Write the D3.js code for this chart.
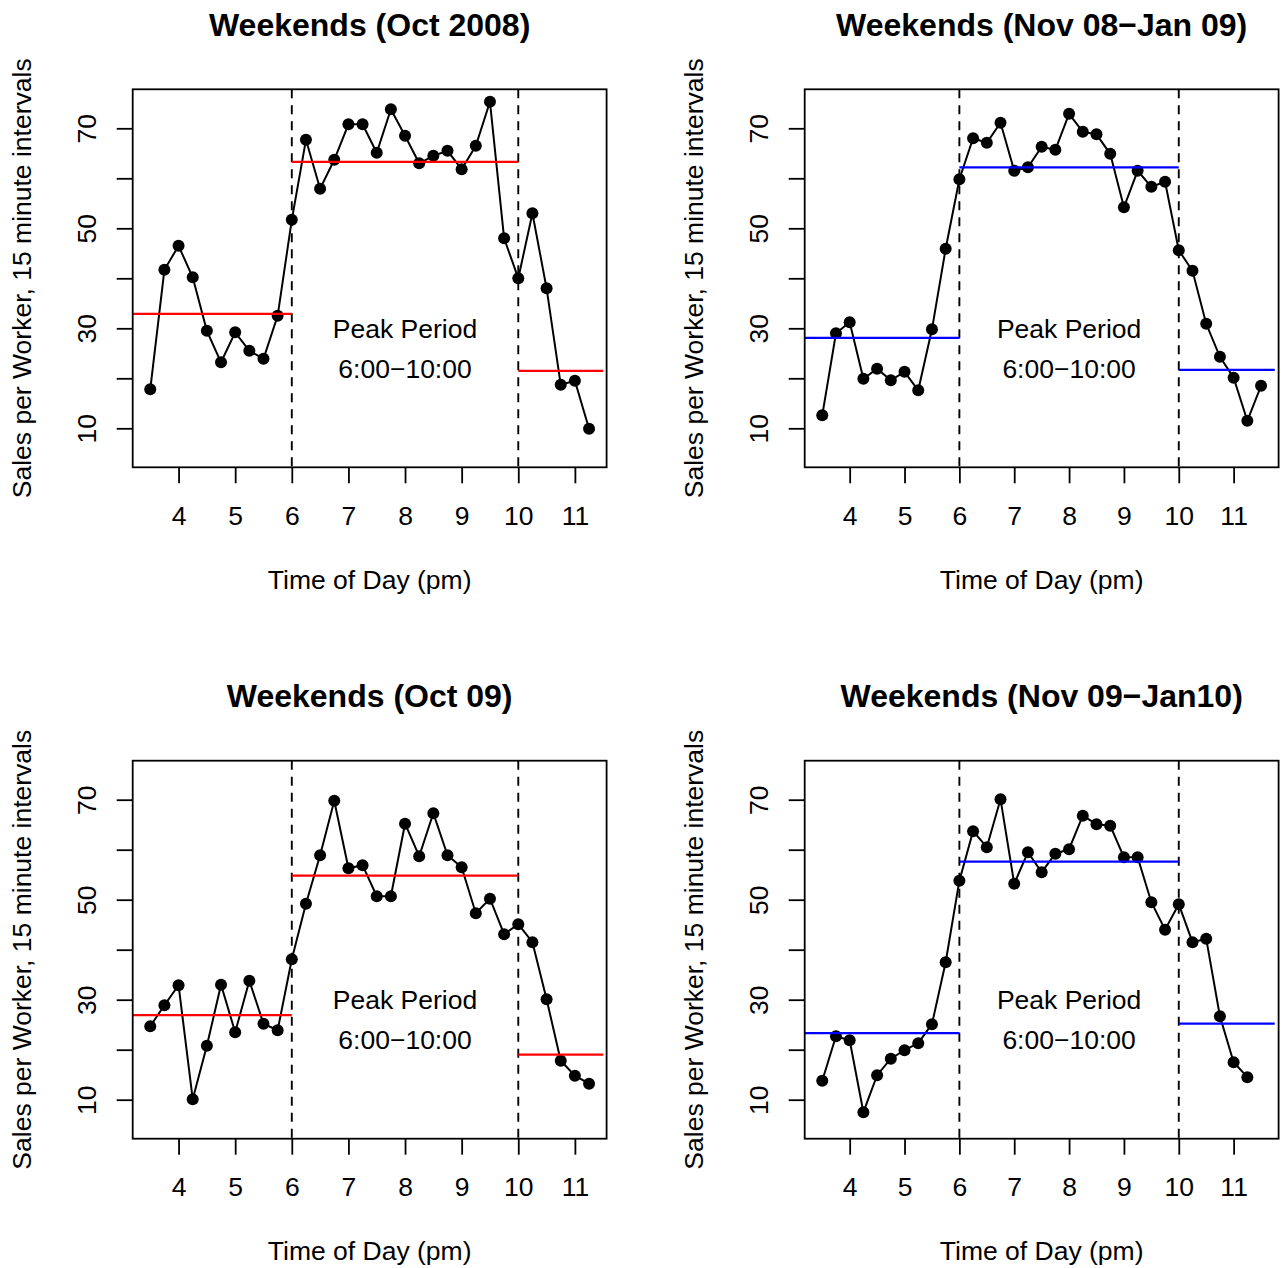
<!DOCTYPE html>
<html>
<head>
<meta charset="utf-8">
<script src="https://cdn.jsdelivr.net/npm/d3@7"></script>
<style>
  body { margin: 0; background: #fff; }
  svg { display: block; font-family: "Liberation Sans", Arial, Helvetica, sans-serif; }
</style>
</head>
<body>
<svg id="chart" width="1287" height="1268"></svg>
<script>
// time of day in hours (pm), 15 minute intervals
const timesShort = [3.5, 3.75, 4, 4.25, 4.5, 4.75, 5, 5.25, 5.5, 5.75, 6, 6.25, 6.5, 6.75, 7, 7.25,
  7.5, 7.75, 8, 8.25, 8.5, 8.75, 9, 9.25, 9.5, 9.75, 10, 10.25, 10.5, 10.75, 11, 11.25];
const timesLong = [3.5, 3.75, 4, 4.25, 4.5, 4.75, 5, 5.25, 5.5, 5.75, 6, 6.25, 6.5, 6.75, 7, 7.25,
  7.5, 7.75, 8, 8.25, 8.5, 8.75, 9, 9.25, 9.5, 9.75, 10, 10.25, 10.5, 10.75, 11, 11.25, 11.5];

// sales per worker
const salesOct08 = [17.8, 41.7, 46.5, 40.2, 29.5, 23.2, 29.2, 25.5, 23.9, 32.5, 51.7, 67.7, 57.9, 63.7, 70.8, 70.8,
  65.1, 73.8, 68.5, 63.0, 64.5, 65.5, 61.8, 66.5, 75.3, 48.0, 40.0, 53.0, 38.0, 18.7, 19.5, 9.9];
const salesNov08 = [12.6, 29.0, 31.2, 19.9, 21.9, 19.6, 21.3, 17.6, 29.8, 45.9, 59.8, 68.0, 67.1, 71.1, 61.5, 62.2,
  66.3, 65.7, 72.9, 69.3, 68.8, 64.9, 54.2, 61.5, 58.3, 59.3, 45.6, 41.5, 30.9, 24.3, 20.1, 11.5, 18.5];
const salesOct09 = [24.7, 28.9, 32.9, 10.1, 20.8, 33.0, 23.5, 33.8, 25.2, 23.9, 38.1, 49.2, 58.9, 69.8, 56.3, 56.9,
  50.7, 50.7, 65.2, 58.7, 67.3, 58.9, 56.5, 47.3, 50.2, 43.1, 45.1, 41.5, 30.1, 17.8, 14.8, 13.2];
const salesNov09 = [13.8, 22.7, 21.9, 7.5, 14.9, 18.2, 19.9, 21.3, 25.1, 37.5, 53.8, 63.7, 60.5, 70.1, 53.2, 59.5,
  55.5, 59.2, 60.1, 66.8, 65.1, 64.8, 58.5, 58.5, 49.5, 44.0, 49.1, 41.5, 42.2, 26.7, 17.5, 14.5];

// period means: before peak, peak, after peak
const meanOct08 = [32.9, 63.3, 21.5];
const meanNov08 = [28.1, 62.2, 21.7];
const meanOct09 = [26.9, 54.8, 19.0];
const meanNov09 = [23.3, 57.6, 25.2];

const boundsShort = [3, 6, 10, 11.5];
const boundsLong = [3, 6, 10, 11.75];
const peakLimits = [6, 10];

const titles = ["Weekends (Oct 2008)", "Weekends (Nov 08\u2212Jan 09)", "Weekends (Oct 09)", "Weekends (Nov 09\u2212Jan10)"];
const xTicks = [4, 5, 6, 7, 8, 9, 10, 11];
const yTicks = [10, 20, 30, 40, 50, 60, 70];
const yLabelled = [10, 30, 50, 70];
const yLimits = [5, 75];

const panels = [
  { title: titles[0], times: timesShort, sales: salesOct08, means: meanOct08, bounds: boundsShort, colour: "#ff0000", col: 0, row: 0 },
  { title: titles[1], times: timesLong, sales: salesNov08, means: meanNov08, bounds: boundsLong, colour: "#0000ff", col: 1, row: 0 },
  { title: titles[2], times: timesShort, sales: salesOct09, means: meanOct09, bounds: boundsShort, colour: "#ff0000", col: 0, row: 1 },
  { title: titles[3], times: timesLong, sales: salesNov09, means: meanNov09, bounds: boundsLong, colour: "#0000ff", col: 1, row: 1 }
];

const svg = d3.select("#chart");
const box = { left: 132.7, right: 606.6, top: 89.3, bottom: 467.3 };
const fontSize = 26.5;

// R style 4% padding of the axis range
function pad(ext) {
  const d = (ext[1] - ext[0]) * 0.04;
  return [ext[0] - d, ext[1] + d];
}

panels.forEach((p, i) => {
  const g = svg.append("g")
    .attr("transform", `translate(${p.col * 672},${p.row * 671.4})`);

  const x = d3.scaleLinear().domain(pad(d3.extent(p.times))).range([box.left, box.right]);
  const y = d3.scaleLinear().domain(pad(yLimits)).range([box.bottom, box.top]);

  g.append("clipPath").attr("id", "clip" + i)
    .append("rect")
    .attr("x", box.left).attr("y", box.top)
    .attr("width", box.right - box.left).attr("height", box.bottom - box.top);

  const plot = g.append("g").attr("clip-path", `url(#clip${i})`);

  const pts = p.sales.map((v, k) => ({ t: p.times[k], v: v }));

  plot.append("path")
    .datum(pts)
    .attr("fill", "none")
    .attr("stroke", "#000")
    .attr("stroke-width", 2)
    .attr("d", d3.line().x(d => x(d.t)).y(d => y(d.v)));

  plot.selectAll("circle")
    .data(pts)
    .enter()
    .append("circle")
    .attr("cx", d => x(d.t))
    .attr("cy", d => y(d.v))
    .attr("r", 6)
    .attr("fill", "#000");

  // peak period boundaries
  plot.selectAll("line.peak")
    .data(peakLimits)
    .enter()
    .append("line")
    .attr("class", "peak")
    .attr("x1", d => x(d)).attr("x2", d => x(d))
    .attr("y1", box.top).attr("y2", box.bottom)
    .attr("stroke", "#000")
    .attr("stroke-width", 1.9)
    .attr("stroke-dasharray", "9,7");

  // period means
  plot.selectAll("line.mean")
    .data(p.means)
    .enter()
    .append("line")
    .attr("class", "mean")
    .attr("x1", (d, k) => x(p.bounds[k]))
    .attr("x2", (d, k) => x(p.bounds[k + 1]))
    .attr("y1", d => y(d)).attr("y2", d => y(d))
    .attr("stroke", p.colour)
    .attr("stroke-width", 2.2);

  g.append("text")
    .attr("x", x(8)).attr("y", y(30)).attr("dy", "0.35em")
    .attr("text-anchor", "middle")
    .attr("font-size", fontSize)
    .text("Peak Period");
  g.append("text")
    .attr("x", x(8)).attr("y", y(22)).attr("dy", "0.35em")
    .attr("text-anchor", "middle")
    .attr("font-size", fontSize)
    .text("6:00\u221210:00");

  // axes
  const xAxis = g.append("g")
    .attr("transform", `translate(0,${box.bottom})`)
    .call(d3.axisBottom(x).tickValues(xTicks).tickSize(16).tickSizeOuter(0).tickFormat(d3.format("d")));
  xAxis.select(".domain").remove();
  xAxis.selectAll("line").attr("stroke-width", 1.8);
  xAxis.selectAll("text")
    .attr("y", 57.7).attr("dy", null)
    .attr("font-size", fontSize)
    .attr("font-family", "Liberation Sans, Arial, Helvetica, sans-serif");

  const yAxis = g.append("g")
    .attr("transform", `translate(${box.left},0)`)
    .call(d3.axisLeft(y).tickValues(yTicks).tickSize(16).tickSizeOuter(0)
      .tickFormat(d => yLabelled.includes(d) ? d : ""));
  yAxis.select(".domain").remove();
  yAxis.selectAll("line").attr("stroke-width", 1.8);
  yAxis.selectAll("text")
    .attr("x", null).attr("dy", null)
    .attr("text-anchor", "middle")
    .attr("transform", `translate(${96 - box.left},0) rotate(-90)`)
    .attr("font-size", fontSize)
    .attr("font-family", "Liberation Sans, Arial, Helvetica, sans-serif");

  g.append("rect")
    .attr("x", box.left).attr("y", box.top)
    .attr("width", box.right - box.left).attr("height", box.bottom - box.top)
    .attr("fill", "none")
    .attr("stroke", "#000")
    .attr("stroke-width", 1.8);

  // titles and labels
  g.append("text")
    .attr("x", (box.left + box.right) / 2).attr("y", 36)
    .attr("text-anchor", "middle")
    .attr("font-size", 32)
    .attr("font-weight", "bold")
    .text(p.title);

  g.append("text")
    .attr("x", (box.left + box.right) / 2).attr("y", 589)
    .attr("text-anchor", "middle")
    .attr("font-size", fontSize)
    .text("Time of Day (pm)");

  g.append("text")
    .attr("transform", `translate(31,${(box.top + box.bottom) / 2}) rotate(-90)`)
    .attr("text-anchor", "middle")
    .attr("font-size", fontSize)
    .text("Sales per Worker, 15 minute intervals");
});
</script>
</body>
</html>
